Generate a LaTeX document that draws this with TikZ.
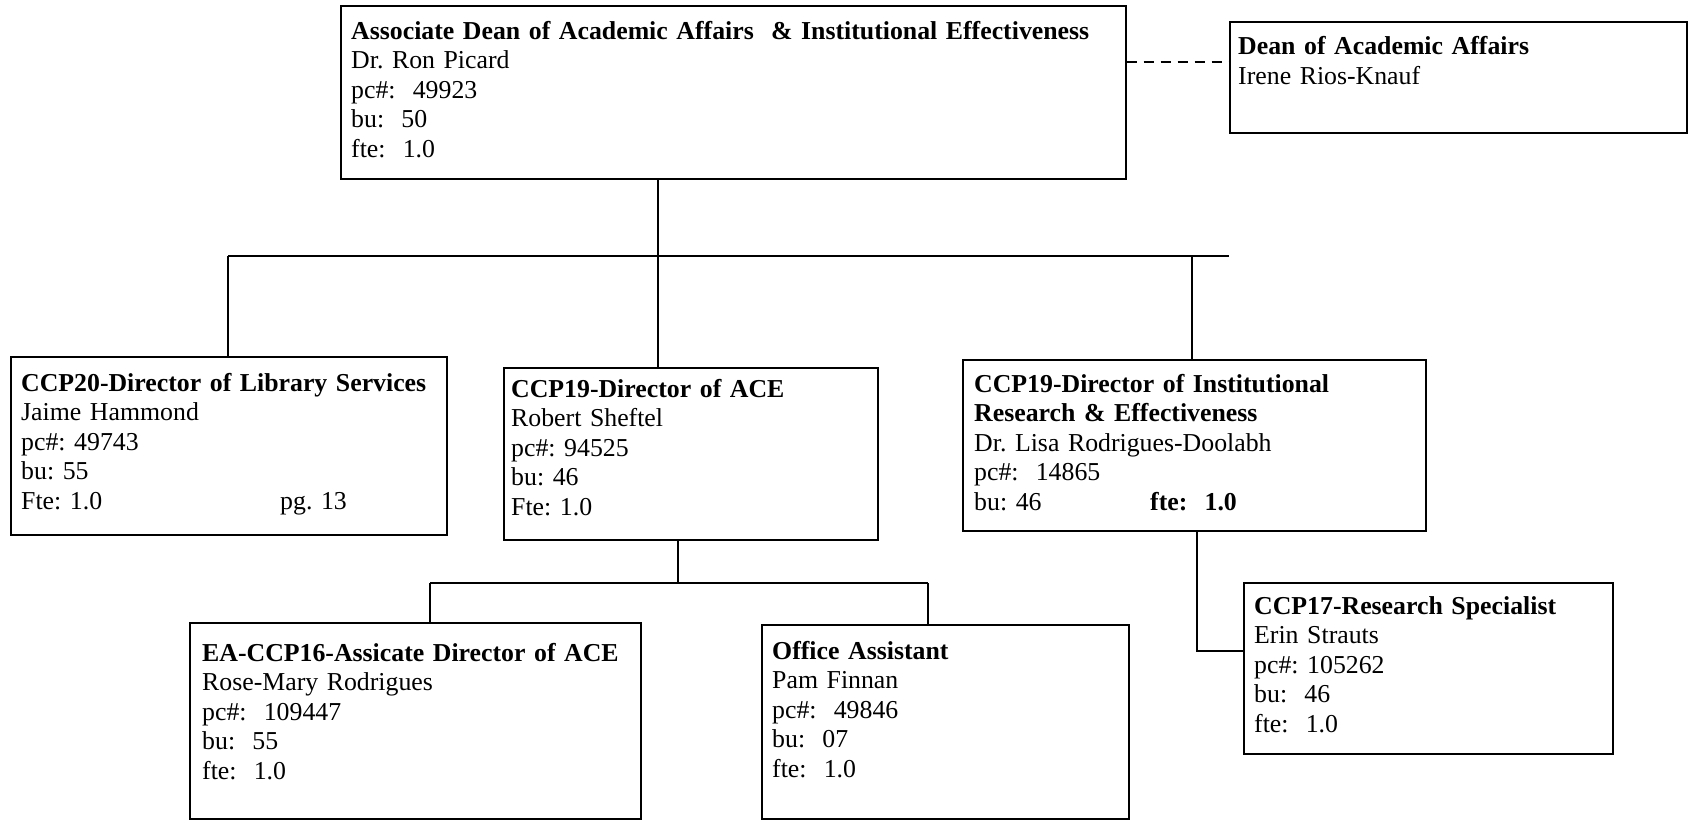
\documentclass[tikz,border=0pt]{standalone}
\usepackage{fontspec}
\setmainfont{Liberation Serif}
\begin{document}
\frenchspacing
\begin{tikzpicture}[
  x=1pt, y=-1pt,
  orgbox/.style={draw, line width=1.6pt, rectangle, inner sep=0pt, anchor=north west},
  orgtext/.style={anchor=base west, inner sep=0pt, align=left, text width=600pt,
                  font=\fontsize{25.8}{29.5}\selectfont\frenchspacing},
  conn/.style={line width=1.6pt},
  dashconn/.style={line width=1.6pt, dash pattern=on 10pt off 7pt}
]
\useasboundingbox (0,0) rectangle (1691,820);

% boxes
\node[orgbox, minimum width=785pt, minimum height=173pt] (ad)   at (340,5)   {};
\node[orgbox, minimum width=457pt, minimum height=111pt] (dean) at (1229,21) {};
\node[orgbox, minimum width=436pt, minimum height=178pt] (lib)  at (10,356)  {};
\node[orgbox, minimum width=374pt, minimum height=172pt] (ace)  at (503,367) {};
\node[orgbox, minimum width=463pt, minimum height=171pt] (ire)  at (962,359) {};
\node[orgbox, minimum width=451pt, minimum height=196pt] (ea)   at (189,622) {};
\node[orgbox, minimum width=367pt, minimum height=194pt] (oa)   at (761,624) {};
\node[orgbox, minimum width=369pt, minimum height=171pt] (rs)   at (1243,582) {};

% texts
\node[orgtext, text width=780pt] (adt) at (351,39) {\textbf{Associate Dean of Academic Affairs \ \& Institutional Effectiveness}\\Dr. Ron Picard\\pc\#: \ 49923\\bu: \ 50\\fte: \ 1.0};
\node[orgtext, font=\fontsize{25.8}{30}\selectfont\frenchspacing] (deant) at (1238,54) {\textbf{Dean of Academic Affairs}\\Irene Rios-Knauf};
\node[orgtext] (libt) at (21,391) {\textbf{CCP20-Director of Library Services}\\Jaime Hammond\\pc\#: 49743\\bu: 55\\\makebox[259pt][l]{Fte: 1.0}pg. 13};
\node[orgtext] (acet) at (511,397) {\textbf{CCP19-Director of ACE}\\Robert Sheftel\\pc\#: 94525\\bu: 46\\Fte: 1.0};
\node[orgtext] (iret) at (974,392) {\textbf{CCP19-Director of Institutional}\\\textbf{Research \& Effectiveness}\\Dr. Lisa Rodrigues-Doolabh\\pc\#: \ 14865\\\makebox[176pt][l]{bu: 46}\textbf{fte: \ 1.0}};
\node[orgtext] (eat) at (202,661) {\textbf{EA-CCP16-Assicate Director of ACE}\\Rose-Mary Rodrigues\\pc\#: \ 109447\\bu: \ 55\\fte: \ 1.0};
\node[orgtext] (oat) at (772,659) {\textbf{Office Assistant}\\Pam Finnan\\pc\#: \ 49846\\bu: \ 07\\fte: \ 1.0};
\node[orgtext] (rst) at (1254,614) {\textbf{CCP17-Research Specialist}\\Erin Strauts\\pc\#: 105262\\bu: \ 46\\fte: \ 1.0};

% junction coordinates
\coordinate (j1) at (658,256);
\coordinate (barL) at (228,256);
\coordinate (barR) at (1229,256);
\coordinate (j2) at (1192,256);
\coordinate (j3) at (678,583);
\coordinate (j3l) at (430,583);
\coordinate (j3r) at (928,583);
\coordinate (j4) at (1197,651);
\coordinate (dy) at (0,62);

% connectors
\draw[conn] (ad.south -| j1) -- (j1);
\draw[conn] (barL) -- (barR);
\draw[conn] (barL) -- (barL |- lib.north);
\draw[conn] (j1) -- (j1 |- ace.north);
\draw[conn] (j2) -- (j2 |- ire.north);
\draw[conn] (ace.south -| j3) -- (j3);
\draw[conn] (j3l) -- (j3r);
\draw[conn] (j3l) -- (j3l |- ea.north);
\draw[conn] (j3r) -- (j3r |- oa.north);
\draw[conn] (ire.south -| j4) -- (j4) -- (j4 -| rs.west);
\draw[dashconn] (ad.east |- dy) -- (dean.west |- dy);
\end{tikzpicture}
\end{document}
